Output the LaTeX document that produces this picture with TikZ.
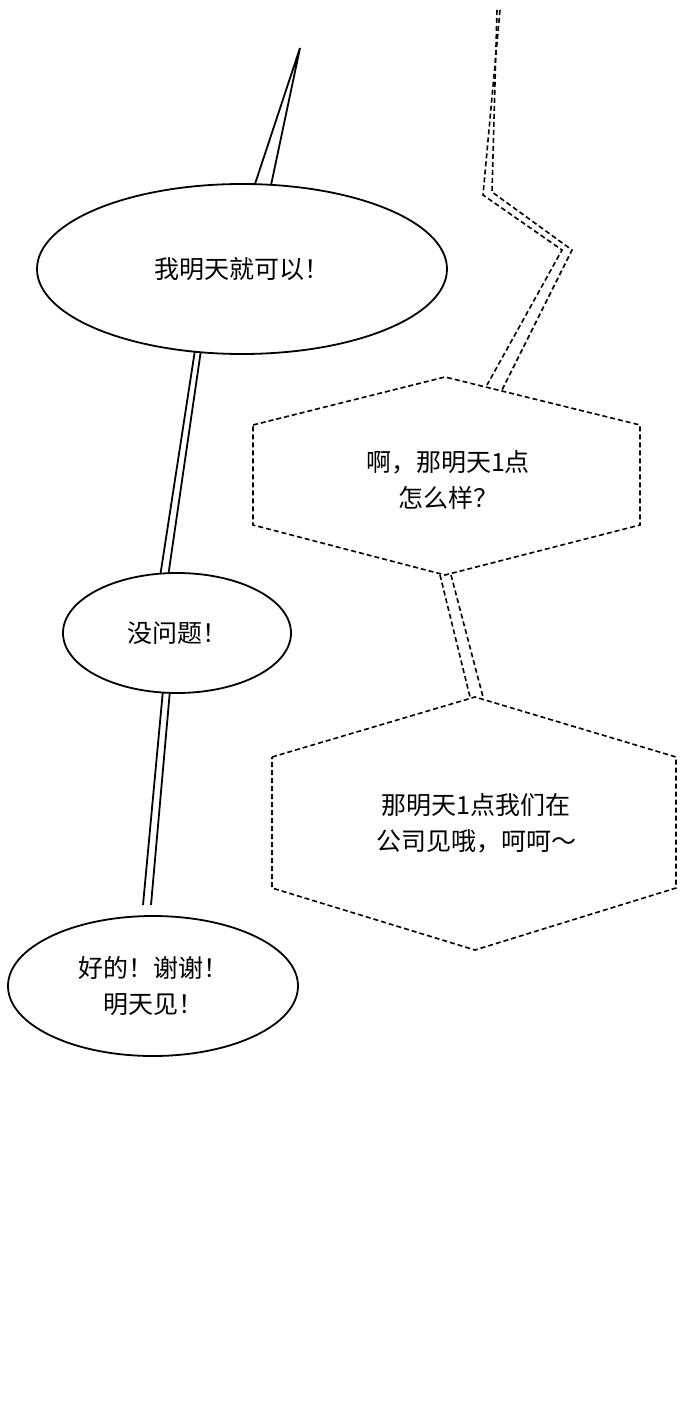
\documentclass[tikz,border=0pt]{standalone}
\usepackage{fontspec}
\setmainfont{Noto Sans CJK SC}
\usetikzlibrary{shapes.geometric}
\begin{document}
\begin{tikzpicture}[x=1pt,y=-1pt,
  bub/.style={ellipse,draw,line width=1.8pt,fill=white,align=center,font=\fontsize{25}{36}\selectfont},
  hex/.style={draw,line width=1.6pt,dash pattern=on 5pt off 3pt,fill=white},
  dl/.style={line width=1.6pt,dash pattern=on 5pt off 3pt},
  ln/.style={line width=1.8pt},
  txt/.style={align=center,font=\fontsize{25}{36}\selectfont}]
\useasboundingbox (0,0) rectangle (690,1420);
% solid connectors
\draw[ln,fill=white] (253,190) -- (300,48) -- (270,190);
\draw[ln] (195,350) -- (160,577) (201,350) -- (168,577);
\draw[ln] (163,690) -- (143,905) (170,690) -- (151,905);
\node[bub,minimum width=410pt,minimum height=170pt] (a) at (242,269) {我明天就可以！};
\node[bub,minimum width=228pt,minimum height=120pt] (b) at (177,633) {没问题！};
\node[bub,minimum width=290pt,minimum height=140pt] (c) at (153,986) {好的！谢谢！\\明天见！};
% dashed connectors
\draw[dl] (500,10) -- (483,195) -- (562,250) -- (487,385);
\draw[dl] (497,10) -- (492,192) -- (572,250) -- (502,390);
\draw[dl] (440,575) -- (470,697) (451,575) -- (483,697);
\draw[hex] (253,425) -- (445,377) -- (640,425) -- (640,525) -- (445,575) -- (253,525) -- cycle;
\node[txt] (h1) at (448,480) {啊，那明天1点\\怎么样？};
\draw[hex] (272,757) -- (475,697) -- (676,757) -- (676,888) -- (475,950) -- (272,888) -- cycle;
\node[txt] (h2) at (476,823) {那明天1点我们在\\公司见哦，呵呵～};
\end{tikzpicture}
\end{document}
